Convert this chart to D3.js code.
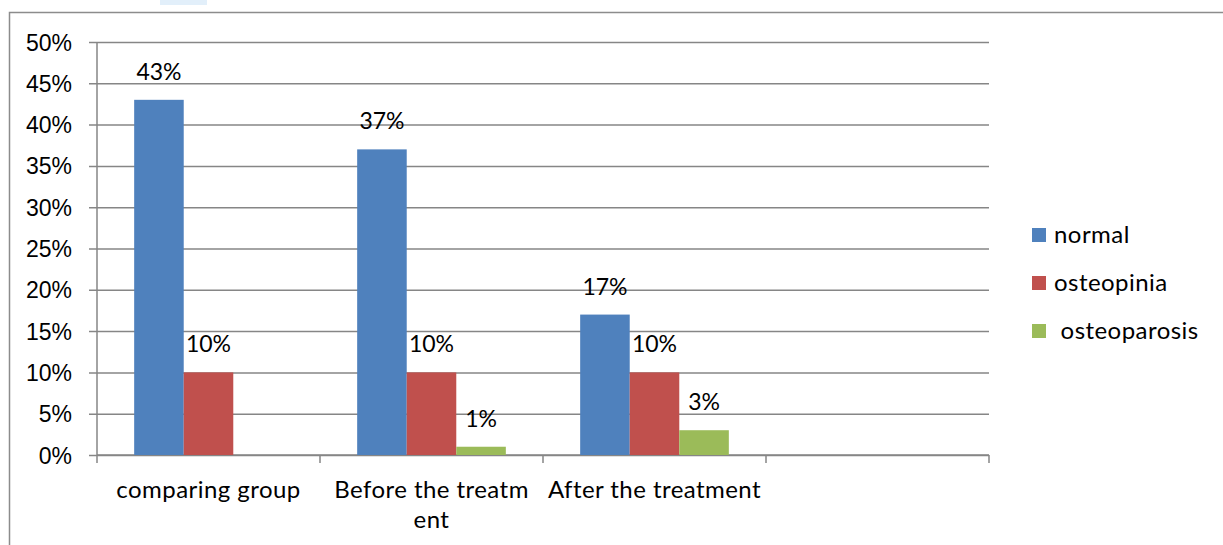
<!DOCTYPE html>
<html>
<head>
<meta charset="utf-8">
<script src="https://cdn.jsdelivr.net/npm/d3@7"></script>
<style>
  html, body { margin: 0; padding: 0; background: #fff; }
  svg { display: block; font-family: Lato, "Open Sans", sans-serif; }
  .word { letter-spacing: 0.45px; }
</style>
</head>
<body>
<svg id="chart" width="1223" height="545"></svg>
<script>
// Chart data
const categories = ["comparing group", "Before the treatment", "After the treatment", ""];
const categoryLines = [["comparing group"], ["Before the treatm", "ent"], ["After the treatment"], []];
const seriesNames = ["normal", "osteopinia", " osteoparosis"];
const normalValues = [43, 37, 17, null];
const osteopiniaValues = [10, 10, 10, null];
const osteoparosisValues = [null, 1, 3, null];
const yTicks = [0, 5, 10, 15, 20, 25, 30, 35, 40, 45, 50];
const colors = ["#4F81BD", "#C0504D", "#9BBB59"];

const series = [normalValues, osteopiniaValues, osteoparosisValues];

const svg = d3.select("#chart");
const margin = { left: 97, right: 234, top: 42, bottom: 90 };
const W = 1223, H = 545;
const plotW = W - margin.left - margin.right;
const plotH = H - margin.top - margin.bottom;
const FS = 23;      // numbers
const FSW = 24;     // words

// faint tab at the top edge
svg.append("rect").attr("x", 160).attr("y", 0).attr("width", 47).attr("height", 5).attr("fill", "#e2effa");

// outer chart border
svg.append("rect")
  .attr("x", 9.5).attr("y", 12.5)
  .attr("width", W + 20).attr("height", H + 20)
  .attr("fill", "none").attr("stroke", "#8c8c8c").attr("stroke-width", 1.5);

const g = svg.append("g").attr("transform", `translate(${margin.left},${margin.top})`);

const x0 = d3.scaleBand().domain(d3.range(categories.length)).range([0, plotW]).paddingInner(0).paddingOuter(0);
const x1 = d3.scaleBand().domain(d3.range(series.length)).range([0, x0.bandwidth()]).paddingInner(0).paddingOuter(0.75);
const y = d3.scaleLinear().domain([0, 50]).range([plotH, 0]);

// gridlines with left tick stubs
const yAxis = d3.axisLeft(y).tickValues(yTicks).tickSize(-plotW - 8).tickFormat(d => d + "%").tickPadding(17);
const yg = g.append("g").attr("transform", "translate(-8,0)").call(yAxis);
yg.select(".domain").remove();
yg.selectAll(".tick line").attr("stroke", "#868686").attr("stroke-width", 1.5);
yg.selectAll(".tick text").attr("font-size", FS).attr("fill", "#000").attr("dy", "0.35em");

// vertical axis line
g.append("line").attr("x1", 0).attr("x2", 0).attr("y1", 0).attr("y2", plotH)
  .attr("stroke", "#868686").attr("stroke-width", 1.5);

// horizontal axis with category boundary ticks
const boundaries = d3.range(categories.length + 1).map(i => i * x0.step());
const xg = g.append("g").attr("transform", `translate(0,${plotH})`);
xg.append("line").attr("x1", 0).attr("x2", plotW).attr("stroke", "#868686").attr("stroke-width", 1.5);
xg.selectAll("line.tk").data(boundaries).join("line").attr("class", "tk")
  .attr("x1", d => d).attr("x2", d => d).attr("y1", 0).attr("y2", 8)
  .attr("stroke", "#868686").attr("stroke-width", 1.5);

// category labels
categoryLines.forEach((lines, i) => {
  const cx = x0(i) + x0.bandwidth() / 2;
  lines.forEach((t, j) => {
    xg.append("text").attr("class", "word").attr("x", cx).attr("y", 43 + j * 30)
      .attr("text-anchor", "middle").attr("font-size", FSW).attr("fill", "#000").text(t);
  });
});

// bars and value labels
series.forEach((vals, s) => {
  const sg = g.append("g");
  const data = vals.map((v, i) => ({ v, i })).filter(d => d.v != null);
  sg.selectAll("rect").data(data).join("rect")
    .attr("x", d => x0(d.i) + x1(s))
    .attr("y", d => y(d.v))
    .attr("width", x1.bandwidth())
    .attr("height", d => plotH - y(d.v))
    .attr("fill", colors[s]);
  sg.selectAll("text").data(data).join("text")
    .attr("x", d => x0(d.i) + x1(s) + x1.bandwidth() / 2)
    .attr("y", d => y(d.v) - 20)
    .attr("text-anchor", "middle").attr("font-size", FS).attr("fill", "#000")
    .text(d => d.v + "%");
});

// legend
const lg = svg.append("g").attr("transform", "translate(1032,228)");
seriesNames.forEach((name, i) => {
  const row = lg.append("g").attr("transform", `translate(0,${i * 48})`);
  row.append("rect").attr("width", 14).attr("height", 14).attr("fill", colors[i]);
  row.append("text").attr("class", "word").attr("x", 22).attr("y", 7).attr("dy", "0.35em")
    .attr("font-size", FSW).attr("fill", "#000")
    .style("white-space", "pre").text(name);
});
</script>
</body>
</html>
